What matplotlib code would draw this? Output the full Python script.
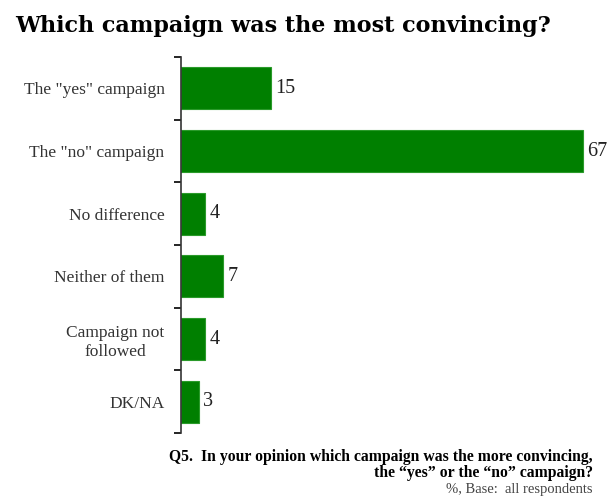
import numpy as np
import matplotlib.pyplot as plt

categories = ['The "yes" campaign', 'The "no" campaign', 'No difference',
              'Neither of them', 'Campaign not\nfollowed', 'DK/NA']
values = [15, 67, 4, 7, 4, 3]

plt.rcParams['font.family'] = ['Liberation Serif', 'DejaVu Serif']

fig = plt.figure(figsize=(6.1, 4.96), dpi=100)
ax = fig.add_axes([0.297, 0.127, 0.688, 0.758])

y = np.arange(len(categories))
ax.barh(y, values, height=0.67, color='#007f00', edgecolor='#2a9a2a', linewidth=0.8)
for yi, v in zip(y, values):
    ax.text(v + 0.7, yi, str(v), va='center', ha='left', fontsize=14.5, color='#222222')

ax.set_ylim(len(categories) - 0.5, -0.5)
ax.set_xlim(0, 70)
ax.set_yticks(y)
ax.set_yticklabels(categories, fontsize=12.5, color='#333333', linespacing=1.25)
for lbl in ax.get_yticklabels():
    lbl.set_multialignment('center')
ax.tick_params(axis='y', which='major', length=0, pad=12)
ax.set_yticks(np.arange(-0.5, len(categories)), minor=True)
ax.tick_params(axis='y', which='minor', length=5, width=1.2, direction='out')
ax.set_xticks([])
for s in ['top', 'right', 'bottom']:
    ax.spines[s].set_visible(False)
ax.spines['left'].set_linewidth(1.2)
ax.spines['left'].set_color('#333333')

fig.text(0.024, 0.947, 'Which campaign was the most convincing?', fontsize=16,
         fontweight='bold', ha='left', va='center', family='DejaVu Serif')
fig.text(0.972, 0.078, 'Q5.  In your opinion which campaign was the more convincing,',
         fontsize=11.3, fontweight='bold', ha='right', va='center')
fig.text(0.972, 0.046, 'the \u201cyes\u201d or the \u201cno\u201d campaign?',
         fontsize=11.3, fontweight='bold', ha='right', va='center')
fig.text(0.972, 0.013, '%, Base:  all respondents', fontsize=10.5, ha='right', va='center',
         color='#444444')

fig.savefig('out.png', dpi=100)
